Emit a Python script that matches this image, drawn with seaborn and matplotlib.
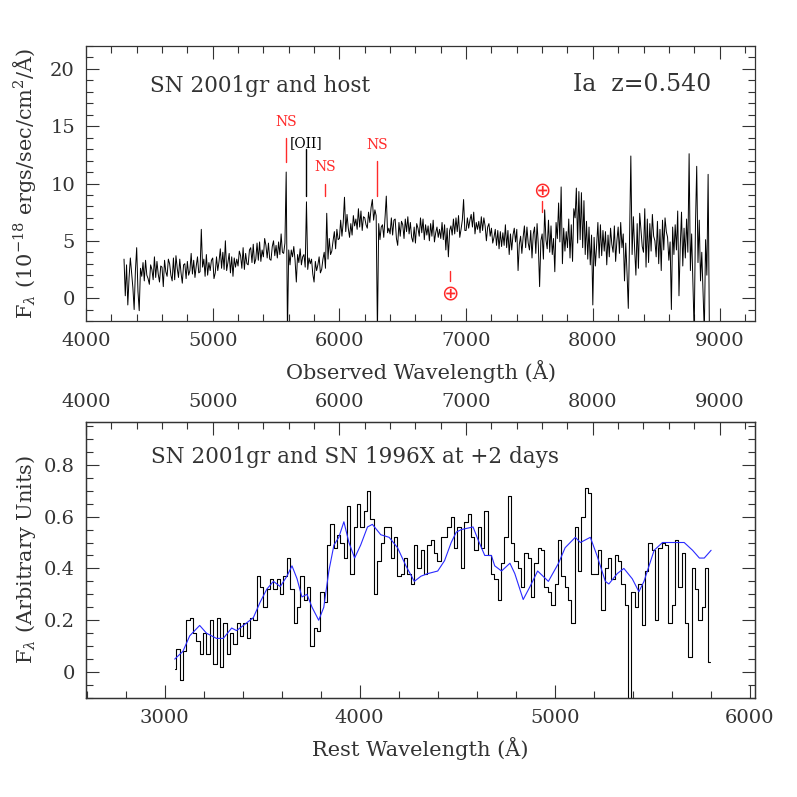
import numpy as np
import pandas as pd
import matplotlib
matplotlib.use("Agg")
import matplotlib.pyplot as plt
from matplotlib.ticker import MultipleLocator
import seaborn as sns

# ---------------- data ----------------
redshift = 0.540

# observed spectrum of SN 2001gr + host (10^-18 erg/s/cm^2/A), 10 A sampling from 4300 A
obs_start = 4300.0
obs_step = 10.0
obs_flux = [
    3.4, 0.2, 2.9, -0.6, 1.8, 3.5, 2.2, 0.9, -1.0, 2.4,
    4.4, 0.6, -1.1, 2.6, 1.9, 3.1, 1.5, 3.3, 2.0, 1.7,
    1.2, 2.9, 2.5, 1.6, 3.6, 1.8, 3.2, 2.1, 1.4, 2.8,
    2.7, 1.0, 3.3, 2.3, 1.9, 3.4, 3.0, 2.0, 1.5, 3.5,
    1.6, 3.7, 2.6, 1.8, 3.4, 2.2, 1.3, 2.9, 3.0, 1.7,
    3.2, 2.0, 2.4, 3.9, 2.1, 3.3, 1.8, 2.8, 3.6, 2.2,
    2.3, 6.0, 2.7, 3.4, 1.9, 3.8, 2.0, 3.1, 2.4, 3.3,
    3.5, 1.7, 2.2, 3.6, 2.4, 3.2, 4.3, 2.6, 4.0, 2.5,
    5.0, 2.4, 3.1, 3.9, 2.2, 3.6, 1.9, 3.5, 2.7, 3.4,
    2.8, 4.1, 3.7, 2.6, 4.4, 2.5, 3.9, 3.0, 2.9, 4.2,
    4.4, 3.1, 4.7, 3.0, 3.4, 4.8, 3.3, 4.9, 3.2, 4.2,
    3.6, 5.2, 4.6, 3.5, 4.8, 3.4, 3.3, 4.5, 5.0, 3.7,
    4.6, 3.5, 4.9, 3.8, 5.6, 4.0, 3.9, 4.8, 11.0, -3.0,
    4.2, 2.9, 4.2, 3.6, 4.5, 3.3, 1.4, 3.8, 3.1, 4.3,
    2.9, 3.6, 3.8, 2.7, 8.4, 2.5, 3.5, 3.0, 3.4, 2.1,
    1.4, 3.2, 2.4, 2.9, 3.6, 2.2, 2.5, 3.4, 4.0, 2.6,
    7.4, 3.4, 5.2, 3.8, 4.1, 5.0, 5.8, 4.3, 6.0, 5.1,
    5.2, 6.8, 5.4, 6.6, 8.8, 5.8, 7.3, 6.1, 5.3, 6.5,
    5.5, 7.2, 6.3, 6.9, 6.0, 7.8, 6.2, 7.6, 5.9, 7.1,
    7.0, 6.4, 6.1, 7.5, 6.6, 7.9, 8.6, 6.8, 7.7, 7.2,
    -3.0, 6.5, 5.1, 6.2, 6.4, 5.3, 7.0, 8.9, 5.7, 6.1,
    5.6, 7.0, 5.5, 6.8, 6.9, 5.2, 4.6, 6.6, 5.4, 6.7,
    6.4, 5.2, 6.9, 5.8, 7.1, 5.6, 6.6, 5.3, 4.9, 6.2,
    4.8, 6.5, 6.1, 5.4, 7.0, 5.7, 6.9, 5.1, 6.4, 5.5,
    6.3, 5.0, 6.5, 5.4, 6.8, 4.9, 5.7, 6.2, 5.3, 6.0,
    5.2, 6.6, 5.1, 6.4, 4.2, 6.1, 3.6, 5.9, 6.3, 5.5,
    6.9, 5.6, 7.0, 5.8, 7.2, 5.3, 6.0, 6.8, 8.6, 5.9,
    5.9, 7.0, 6.1, 6.8, 7.3, 6.2, 7.5, 5.6, 6.6, 6.0,
    6.7, 5.7, 7.1, 5.9, 7.0, 6.3, 5.0, 6.2, 6.5, 5.4,
    6.1, 4.8, 5.3, 6.0, 4.6, 5.9, 4.3, 5.8, 4.5, 5.7,
    4.6, 6.4, 4.4, 5.9, 3.8, 5.6, 4.2, 5.5, 6.1, 4.9,
    6.0, 2.4, 4.7, 5.4, 3.9, 5.3, 6.3, 4.4, 6.2, 4.8,
    4.2, 5.9, 3.5, 5.6, 6.2, 3.9, 6.5, 4.6, 1.0, 5.0,
    5.6, 3.4, 7.7, 5.1, 4.3, 6.8, 4.0, 6.3, 3.8, 5.2,
    2.3, 6.6, 5.2, 8.3, 4.9, 9.7, 3.0, 6.1, 4.1, 5.8,
    4.4, 6.9, 3.5, 6.4, 3.2, 7.8, 7.0, 9.6, 4.8, 9.3,
    5.1, 9.2, 4.4, 8.5, 3.8, 6.7, 3.4, 6.2, 2.9, 5.5,
    -0.6, 5.3, 2.8, 4.6, 6.6, 3.5, 6.4, 3.7, 5.9, 4.1,
    5.8, 2.9, 5.5, 3.6, 6.1, 4.7, 4.0, 6.3, 3.2, 5.0,
    6.2, 3.9, 6.6, 4.4, 5.6, 1.5, 4.8, 2.2, -0.9, 5.2,
    12.4, 3.8, 7.1, 4.3, 2.0, 6.5, 2.6, 7.4, 5.9, 4.5,
    4.0, 7.8, 2.7, 6.9, 3.1, 6.5, 4.1, 7.3, 5.4, 5.0,
    3.6, 6.7, 3.0, 6.0, 2.4, 6.8, 4.2, 7.0, 5.8, 5.3,
    3.3, 4.9, -1.0, 6.2, 3.8, 6.4, 4.2, 7.6, 0.2, 4.5,
    7.5, 2.8, 6.1, 3.5, 6.9, 4.0, 12.6, 2.4, 5.6, 1.2,
    -3.0, 6.3, 11.5, 3.1, 6.8, 1.5, 4.0, 0.5, -3.0, 5.1,
    2.0, 10.8, -3.0,
]

# line markers (observed frame)
ns_wave = [5577, 5890, 6300]
ns_lo = [11.9, 8.9, 8.9]
ns_hi = [14.0, 10.0, 12.0]
ns_text_y = [15.4, 11.4, 13.4]
oii_wave = 5740
oii_lo, oii_hi, oii_text_y = 8.9, 13.0, 13.5
earth_wave = [7600, 6870]
earth_y = [9.4, 0.4]
earth_line_lo = [7.5, 1.5]
earth_line_hi = [8.5, 2.4]

# rest-frame binned spectrum (arbitrary units), bins of 17.15 A from 3052 A
rest_start = 3052.0
rest_step = 17.15
rest_flux = [
    0.01, 0.09, -0.03, 0.08, 0.20, 0.21, 0.15, 0.12, 0.07, 0.15,
    0.07, 0.20, 0.03, 0.21, 0.02, 0.19, 0.07, 0.15, 0.11, 0.19,
    0.14, 0.19, 0.13, 0.21, 0.20, 0.37, 0.33, 0.25, 0.32, 0.36,
    0.32, 0.36, 0.30, 0.37, 0.44, 0.32, 0.19, 0.25, 0.37, 0.28,
    0.33, 0.10, 0.17, 0.16, 0.31, 0.27, 0.49, 0.57, 0.48, 0.53,
    0.50, 0.44, 0.64, 0.38, 0.56, 0.65, 0.56, 0.62, 0.70, 0.59,
    0.30, 0.43, 0.50, 0.56, 0.56, 0.44, 0.52, 0.37, 0.38, 0.44,
    0.38, 0.34, 0.49, 0.40, 0.47, 0.38, 0.49, 0.51, 0.46, 0.43,
    0.52, 0.52, 0.56, 0.60, 0.48, 0.56, 0.40, 0.58,
    0.61, 0.52, 0.47, 0.56, 0.48, 0.62, 0.45, 0.38, 0.36, 0.28,
    0.42, 0.52, 0.68, 0.50, 0.43, 0.40, 0.33, 0.46, 0.44, 0.29,
    0.42, 0.48, 0.47, 0.33, 0.31, 0.26, 0.34, 0.51, 0.37, 0.33,
    0.28, 0.19, 0.56, 0.39, 0.60, 0.71, 0.69, 0.38, 0.38, 0.47,
    0.24, 0.40, 0.44, 0.36, 0.45, 0.43, 0.34, 0.26, -0.20, 0.31,
    0.25, 0.34, 0.18, 0.39, 0.50, 0.47, 0.20, 0.48, 0.50, 0.49,
    0.19, 0.26, 0.51, 0.33, 0.46, 0.19, 0.06, 0.40, 0.32, 0.20,
    0.25, 0.40, 0.04,
]

# SN 1996X template at +2 days
tmpl_wave = [3052, 3094, 3129, 3180, 3215, 3266, 3301, 3344, 3369, 3404,
             3455, 3490, 3524, 3558, 3593, 3627, 3653, 3679, 3704, 3730,
             3756, 3790, 3816, 3842, 3868, 3893, 3919, 3945, 3974, 4005,
             4040, 4065, 4108, 4151, 4194, 4237, 4280, 4314, 4349, 4400,
             4435, 4469, 4495, 4521, 4581, 4607, 4641, 4675, 4692, 4727,
             4770, 4795, 4838, 4873, 4912, 4967, 5019, 5053, 5105, 5131,
             5182, 5216, 5259, 5277, 5320, 5354, 5397, 5431, 5457, 5483,
             5509, 5552, 5586, 5663, 5706, 5741, 5766, 5801]
tmpl_flux = [0.05, 0.08, 0.14, 0.18, 0.15, 0.13, 0.13, 0.17, 0.16, 0.18,
             0.21, 0.27, 0.32, 0.35, 0.33, 0.37, 0.41, 0.36, 0.29, 0.30,
             0.25, 0.20, 0.25, 0.39, 0.49, 0.52, 0.58, 0.50, 0.44, 0.49,
             0.56, 0.57, 0.53, 0.52, 0.48, 0.41, 0.35, 0.37, 0.38, 0.39,
             0.43, 0.50, 0.54, 0.55, 0.56, 0.51, 0.45, 0.45, 0.41, 0.39,
             0.42, 0.38, 0.28, 0.33, 0.39, 0.35, 0.42, 0.48, 0.52, 0.50,
             0.52, 0.45, 0.35, 0.34, 0.38, 0.40, 0.36, 0.31, 0.35, 0.41,
             0.47, 0.50, 0.50, 0.50, 0.47, 0.44, 0.44, 0.47]

# ---------------- style ----------------
sns.set_style("ticks")
plt.rcParams["font.family"] = ["DejaVu Serif", "DejaVu Sans"]
plt.rcParams["mathtext.fontset"] = "dejavuserif"
TXT = "#333333"
plt.rcParams.update({
    "axes.edgecolor": TXT, "axes.linewidth": 0.9,
    "xtick.color": TXT, "ytick.color": TXT,
    "xtick.labelcolor": TXT, "ytick.labelcolor": TXT,
    "text.color": TXT, "axes.labelcolor": TXT,
})
LBL = 15
TICK = 14

fig = plt.figure(figsize=(7.97, 7.97), dpi=100)
ax1 = fig.add_axes([86 / 797, 1 - 321 / 797, 669 / 797, 275 / 797])
ax2 = fig.add_axes([86 / 797, 1 - 698 / 797, 669 / 797, 276 / 797])


def style_ticks(ax, **kw):
    ax.tick_params(which="both", direction="in", labelsize=TICK, pad=8, **kw)
    ax.tick_params(which="major", length=9.5, width=0.8)
    ax.tick_params(which="minor", length=4.8, width=0.8)


# ---------------- top panel ----------------
obs_wave = obs_start + obs_step * np.arange(len(obs_flux))
df_obs = pd.DataFrame({"wave": obs_wave, "flux": obs_flux})
sns.lineplot(data=df_obs, x="wave", y="flux", ax=ax1, color="black",
             lw=0.7, estimator=None, sort=False)
ax1.set_xlim(4000, 9280)
ax1.set_ylim(-2, 22)
ax1.xaxis.set_major_locator(MultipleLocator(1000))
ax1.xaxis.set_minor_locator(MultipleLocator(200))
ax1.yaxis.set_major_locator(MultipleLocator(5))
ax1.yaxis.set_minor_locator(MultipleLocator(1))
style_ticks(ax1, top=True, right=True)
ax1.set_xlabel("Observed Wavelength (Å)", fontsize=LBL, labelpad=7)
ax1.set_ylabel(r"F$_\lambda$ (10$^{-18}$ ergs/sec/cm$^2$/Å)", fontsize=LBL)
ax1.yaxis.set_label_coords(-0.072, 0.5)

red = "#ff2a2a"
for w, lo, hi, ty in zip(ns_wave, ns_lo, ns_hi, ns_text_y):
    ax1.plot([w, w], [lo, hi], color=red, lw=1.0)
    ax1.text(w, ty, "NS", color=red, fontsize=10, ha="center", va="center")
ax1.plot([oii_wave, oii_wave], [oii_lo, oii_hi], color="black", lw=1.0)
ax1.text(oii_wave, oii_text_y, "[OII]", color="black", fontsize=10,
         ha="center", va="center")
for w, y, lo, hi in zip(earth_wave, earth_y, earth_line_lo, earth_line_hi):
    ax1.plot([w, w], [lo, hi], color=red, lw=1.0)
    ax1.text(w, y, "\u2295", color=red, fontsize=15, ha="center",
             va="center", family="DejaVu Sans")

ax1.text(0.095, 0.855, "SN 2001gr and host", transform=ax1.transAxes,
         fontsize=15.5, ha="left", va="center")
ax1.text(0.935, 0.86, "Ia  z=0.540", transform=ax1.transAxes,
         fontsize=17, ha="right", va="center")

# ---------------- bottom panel ----------------
rest_wave = rest_start + rest_step * np.arange(len(rest_flux))
df_rest = pd.DataFrame({"wave": rest_wave, "flux": rest_flux})
sns.lineplot(data=df_rest, x="wave", y="flux", ax=ax2, color="black",
             lw=0.8, estimator=None, sort=False, drawstyle="steps-mid")
df_tmpl = pd.DataFrame({"wave": tmpl_wave, "flux": tmpl_flux})
sns.lineplot(data=df_tmpl, x="wave", y="flux", ax=ax2, color="#2a2aff",
             lw=0.8, estimator=None, sort=False)
ax2.set_xlim(4000 / (1 + redshift), 9280 / (1 + redshift))
ax2.set_ylim(-0.1, 0.965)
ax2.xaxis.set_major_locator(MultipleLocator(1000))
ax2.xaxis.set_minor_locator(MultipleLocator(200))
ax2.yaxis.set_major_locator(MultipleLocator(0.2))
ax2.yaxis.set_minor_locator(MultipleLocator(0.05))
ax2.yaxis.set_major_formatter(plt.FuncFormatter(lambda v, p: f"{v:g}"))
style_ticks(ax2, top=False, right=True)
ax2.set_xlabel("Rest Wavelength (Å)", fontsize=LBL, labelpad=7)
ax2.set_ylabel(r"F$_\lambda$ (Arbitrary Units)", fontsize=LBL)
ax2.yaxis.set_label_coords(-0.072, 0.5)
ax2.text(0.097, 0.875, "SN 2001gr and SN 1996X at +2 days",
         transform=ax2.transAxes, fontsize=15.5, ha="left", va="center")

ax3 = ax2.twiny()
ax3.set_xlim(4000, 9280)
ax3.xaxis.set_major_locator(MultipleLocator(1000))
ax3.xaxis.set_minor_locator(MultipleLocator(200))
style_ticks(ax3, top=True, bottom=False, labeltop=True, labelbottom=False)

fig.savefig("out.png", dpi=100)
